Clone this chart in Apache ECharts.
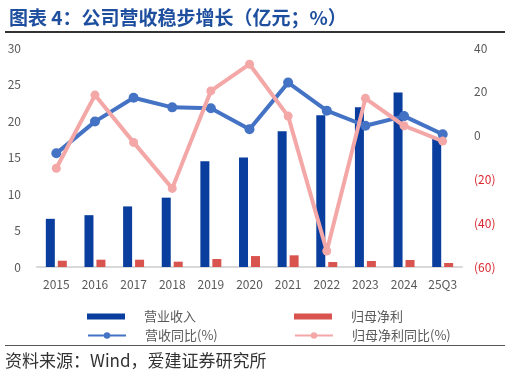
<!DOCTYPE html>
<html>
<head>
<meta charset="utf-8">
<script src="https://cdn.jsdelivr.net/npm/echarts@6/dist/echarts.min.js"></script>
<style>
  html, body { margin: 0; padding: 0; background: #fff; }
  #chart { width: 510px; height: 376px; }
</style>
</head>
<body>
<div id="chart"></div>
<script>
// 数据
const years = ['2015', '2016', '2017', '2018', '2019', '2020', '2021', '2022', '2023', '2024', '25Q3']
const revenue = [6.6, 7.1, 8.3, 9.5, 14.5, 15.0, 18.6, 20.8, 21.9, 23.9, 17.7] // 营业收入
const netProfit = [0.86, 1.0, 1.0, 0.73, 1.1, 1.5, 1.6, 0.68, 0.82, 0.96, 0.55] // 归母净利
const revenueYoy = [-8.1, 6.4, 17.3, 12.9, 12.5, 2.9, 24.2, 11.4, 4.5, 8.9, 0.6] // 营收同比
const profitYoy = [-14.9, 18.5, -3.1, -24.1, 20.4, 32.6, 8.9, -52.7, 17.0, 4.5, -2.5] // 归母净利同比

const font = 'Noto Sans CJK SC'
const gray = '#595959'

const chart = echarts.init(document.getElementById('chart'))

const legendBase = {
  itemWidth: 38,
  itemHeight: 8,
  textStyle: { color: gray, fontSize: 13, fontFamily: font, padding: [0, 0, 0, 14] },
}

chart.setOption({
  animation: false,
  textStyle: { fontFamily: font },
  title: {
    text: '图表 4：公司营收稳步增长（亿元；%）',
    left: 4,
    top: 3,
    textStyle: { color: '#1E4E9E', fontSize: 19, fontWeight: 'bold', fontFamily: font },
  },
  graphic: [
    { type: 'rect', shape: { x: 5, y: 31, width: 500, height: 2 }, style: { fill: '#333' } },
    { type: 'rect', shape: { x: 5, y: 345, width: 500, height: 1 }, style: { fill: '#555' } },
    {
      type: 'text',
      left: 5,
      top: 352,
      style: { text: '资料来源：Wind，爱建证券研究所', fill: '#333', fontSize: 17, fontFamily: font },
    },
  ],
  legend: [
    Object.assign({ left: 82, top: 305, data: [{ name: '营业收入', icon: 'rect' }] }, legendBase, { itemHeight: 6 }),
    Object.assign({ left: 289, top: 305, data: [{ name: '归母净利', icon: 'rect' }] }, legendBase, { itemHeight: 6 }),
    Object.assign({ left: 82, top: 324, data: ['营收同比(%)'] }, legendBase),
    Object.assign({ left: 289, top: 324, data: ['归母净利同比(%)'] }, legendBase),
  ],
  grid: { left: 37, right: 48, top: 48, bottom: 109 },
  xAxis: {
    type: 'category',
    data: years,
    axisLine: { lineStyle: { color: '#D9D9D9', width: 2 } },
    axisTick: { show: false },
    axisLabel: { color: gray, fontSize: 12, margin: 11 },
  },
  yAxis: [
    {
      type: 'value',
      min: 0,
      max: 30,
      interval: 5,
      splitLine: { show: false },
      axisLine: { show: false },
      axisTick: { show: false },
      axisLabel: { color: gray, fontSize: 12, margin: 16 },
    },
    {
      type: 'value',
      min: -60,
      max: 40,
      interval: 20,
      position: 'right',
      splitLine: { show: false },
      axisLine: { show: false },
      axisTick: { show: false },
      axisLabel: {
        fontSize: 12,
        margin: 12,
        formatter: (v) => (v < 0 ? '{neg|(' + Math.abs(v) + ')}' : '{pos|' + v + '}'),
        rich: {
          neg: { color: '#D9262F', fontSize: 12 },
          pos: { color: gray, fontSize: 12 },
        },
      },
    },
  ],
  series: [
    {
      name: '营业收入',
      type: 'bar',
      data: revenue,
      barWidth: 9,
      barGap: '33%',
      itemStyle: { color: '#0A3E9E' },
    },
    {
      name: '归母净利',
      type: 'bar',
      data: netProfit,
      barWidth: 9,
      itemStyle: { color: '#D9534F' },
    },
    {
      name: '营收同比(%)',
      type: 'line',
      yAxisIndex: 1,
      data: revenueYoy,
      symbol: 'circle',
      symbolSize: 10,
      lineStyle: { color: '#4472C4', width: 4 },
      itemStyle: { color: '#4472C4' },
      z: 3,
    },
    {
      name: '归母净利同比(%)',
      type: 'line',
      yAxisIndex: 1,
      data: profitYoy,
      symbol: 'circle',
      symbolSize: 9,
      lineStyle: { color: '#F4A7A7', width: 4 },
      itemStyle: { color: '#F4A7A7' },
      z: 4,
    },
  ],
})
</script>
</body>
</html>
